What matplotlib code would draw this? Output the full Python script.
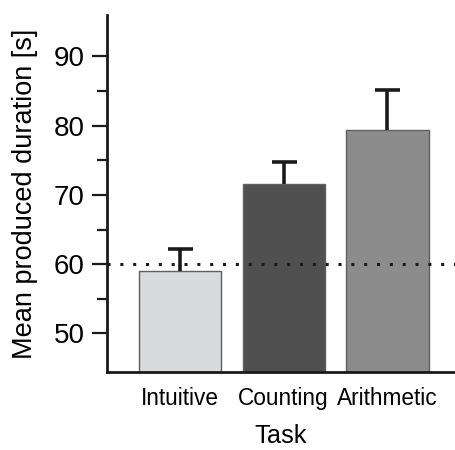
import numpy as np
import matplotlib
matplotlib.use("Agg")
from matplotlib import pyplot as plt
from matplotlib.ticker import FixedLocator

# Data
tasks = ["Intuitive", "Counting", "Arithmetic"]
means = [59.0, 71.6, 79.4]
errors = [3.2, 3.2, 5.7]
colours = ["#d8dadb", "#505050", "#8c8c8c"]
reference = 60

plt.rcParams['font.family'] = ['Liberation Sans', 'DejaVu Sans']

fig = plt.figure(figsize=(4.55, 4.5), dpi=100)
ax = fig.add_axes([0.235, 0.173, 0.765, 0.794])

x = np.arange(len(tasks))
ax.bar(x, means, width=0.79, color=colours, edgecolor="#606060", linewidth=1.0, zorder=2)
# one-sided (upper) error bars
eb = ax.errorbar(x, means, yerr=[np.zeros(len(errors)), errors], fmt='none',
                 ecolor="#1a1a1a", elinewidth=2.6, capsize=9, capthick=2.6, zorder=3)
eb[1][0].set_visible(False)

# Reference line at 60 s
ax.axhline(reference, color="#1a1a1a", linestyle=(0, (1, 3.2)), linewidth=2.2, zorder=4)

ax.set_xlim(-0.7, 2.65)
ax.set_ylim(44.4, 96)
ax.set_yticks([50, 60, 70, 80, 90])
ax.yaxis.set_minor_locator(FixedLocator([55, 65, 75, 85]))
ax.tick_params(axis='y', which='major', length=11, width=1.6, labelsize=20, pad=5, color="#1a1a1a")
ax.tick_params(axis='y', which='minor', length=7, width=1.6, color="#1a1a1a")
ax.set_xticks(x)
ax.set_xticklabels(tasks)
ax.tick_params(axis='x', length=0, labelsize=16.3, pad=11)

for side in ["top", "right"]:
    ax.spines[side].set_visible(False)
for side in ["left", "bottom"]:
    ax.spines[side].set_linewidth(2)
    ax.spines[side].set_color("#1a1a1a")

ax.set_ylabel("Mean produced duration [s]", fontsize=19.5, labelpad=11)
ax.set_xlabel("Task", fontsize=18.3, labelpad=10)

plt.savefig("out.png", dpi=100)
